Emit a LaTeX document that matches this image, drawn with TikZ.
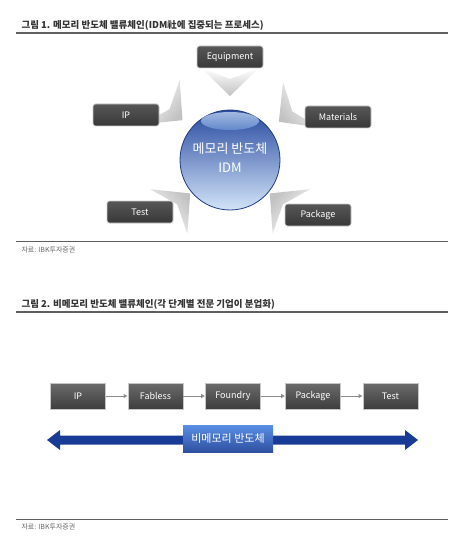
\documentclass[tikz,border=0pt]{standalone}
\usepackage{fontspec}
\newfontfamily\kr{Noto Sans CJK KR}
\usepackage{tikz}
\usetikzlibrary{arrows.meta,calc}

\definecolor{rulegray}{RGB}{95,95,95}
\definecolor{sphtop}{RGB}{40,74,160}
\definecolor{sphmid}{RGB}{108,148,212}
\definecolor{sphbot}{RGB}{210,228,248}
\definecolor{banddark}{RGB}{24,60,150}
\definecolor{bandlight}{RGB}{70,130,225}

\begin{document}
\begin{tikzpicture}[x=1pt,y=-1pt,font=\kr,
    title/.style={anchor=base west,font=\kr\bfseries\fontsize{9.5}{11}\selectfont,text=black!80},
    srcnote/.style={anchor=base west,font=\kr\fontsize{7}{8}\selectfont,text=black!60},
    rule/.style={line width=1.1pt,rulegray},
    keybox/.style={rounded corners=2.5pt,draw=black!20,line width=0.8pt,top color=black!66,bottom color=black!78,
      text=white,minimum width=66pt,minimum height=22pt,inner sep=1pt,font=\kr\fontsize{9}{10}\selectfont},
    stepbox/.style={draw=black!22,line width=0.6pt,top color=black!58,bottom color=black!76,
      text=white,minimum width=55pt,minimum height=26pt,inner sep=1pt,font=\kr\fontsize{9}{10}\selectfont},
    feed/.style={top color=white,bottom color=black!24},
    flow/.style={-{Latex[length=4pt,width=4.5pt]},black!45,line width=0.8pt}]
        \useasboundingbox (0,0) rectangle (458,540);
        % figure 1
        \node[title] (t1) at (18,29) {그림 1. 메모리 반도체 밸류체인(IDM社에 집중되는 프로세스)};
        \draw[rule] (16,33) -- (448,33);
        \coordinate (c) at (230,160);
        \foreach \a/\s/\r in {-90/0/64, 220/50/62, -38/-52/62, 140/130/52, 40/230/52}
          \shade[feed,shading angle=\s] ($(c)+(\a:\r)$) -- ($(c)+(\a:\r+28)+(\a+90:29)$)
            -- ($(c)+(\a:\r+17)$) -- ($(c)+(\a:\r+28)+(\a-90:29)$) -- cycle;
        \shade[top color=sphtop,middle color=sphmid,bottom color=sphbot] (c) circle (50);
        \draw[sphtop!80!black,line width=0.8pt] (c) circle (50);
        \shade[top color=sphmid!55!white,bottom color=sphmid!90!sphtop,opacity=0.9] (230,121) ellipse (29 and 9);
        \node[text=white,align=center,font=\kr\fontsize{13}{19}\selectfont] (idm) at (230,158) {메모리 반도체\\IDM};
        \node[keybox] (equip) at (230,57) {Equipment};
        \node[keybox] (ip) at (126,115) {IP};
        \node[keybox] (mat) at (338,117) {Materials};
        \node[keybox] (test) at (140,212) {Test};
        \node[keybox] (pack) at (318,215) {Package};
        \draw[line width=0.9pt,rulegray] (16,241) -- (448,241);
        \node[srcnote] (src1) at (18,252) {자료: IBK투자증권};
        % figure 2
        \node[title] (t2) at (18,307) {그림 2. 비메모리 반도체 밸류체인(각 단계별 전문 기업이 분업화)};
        \draw[rule] (16,312) -- (448,312);
        \node[stepbox] (ipstep) at (78,396) {IP};
        \node[stepbox] (fabless) at (155.5,396) {Fabless};
        \node[stepbox] (foundry) at (233,396) {Foundry};
        \node[stepbox] (package) at (313,396) {Package};
        \node[stepbox] (teststep) at (390.5,396) {Test};
        \draw[flow] (ipstep) -- (fabless);
        \draw[flow] (fabless) -- (foundry);
        \draw[flow] (foundry) -- (package);
        \draw[flow] (package) -- (teststep);
        \shade[top color=banddark,middle color=bandlight,bottom color=banddark]
          (47,440) -- (60,430) -- (60,435.5) -- (405,435.5) -- (405,430) -- (418,440)
          -- (405,450) -- (405,444.5) -- (60,444.5) -- (60,450) -- cycle;
        \node[top color=bandlight!90!white,bottom color=banddark!90,text=white,minimum width=90pt,minimum height=27pt,
          font=\kr\fontsize{11}{12}\selectfont] (nonmem) at (228,438.5) {비메모리 반도체};
        \draw[line width=0.9pt,rulegray] (16,519) -- (448,519);
        \node[srcnote] (src2) at (18,529) {자료: IBK투자증권};
\end{tikzpicture}
\end{document}
